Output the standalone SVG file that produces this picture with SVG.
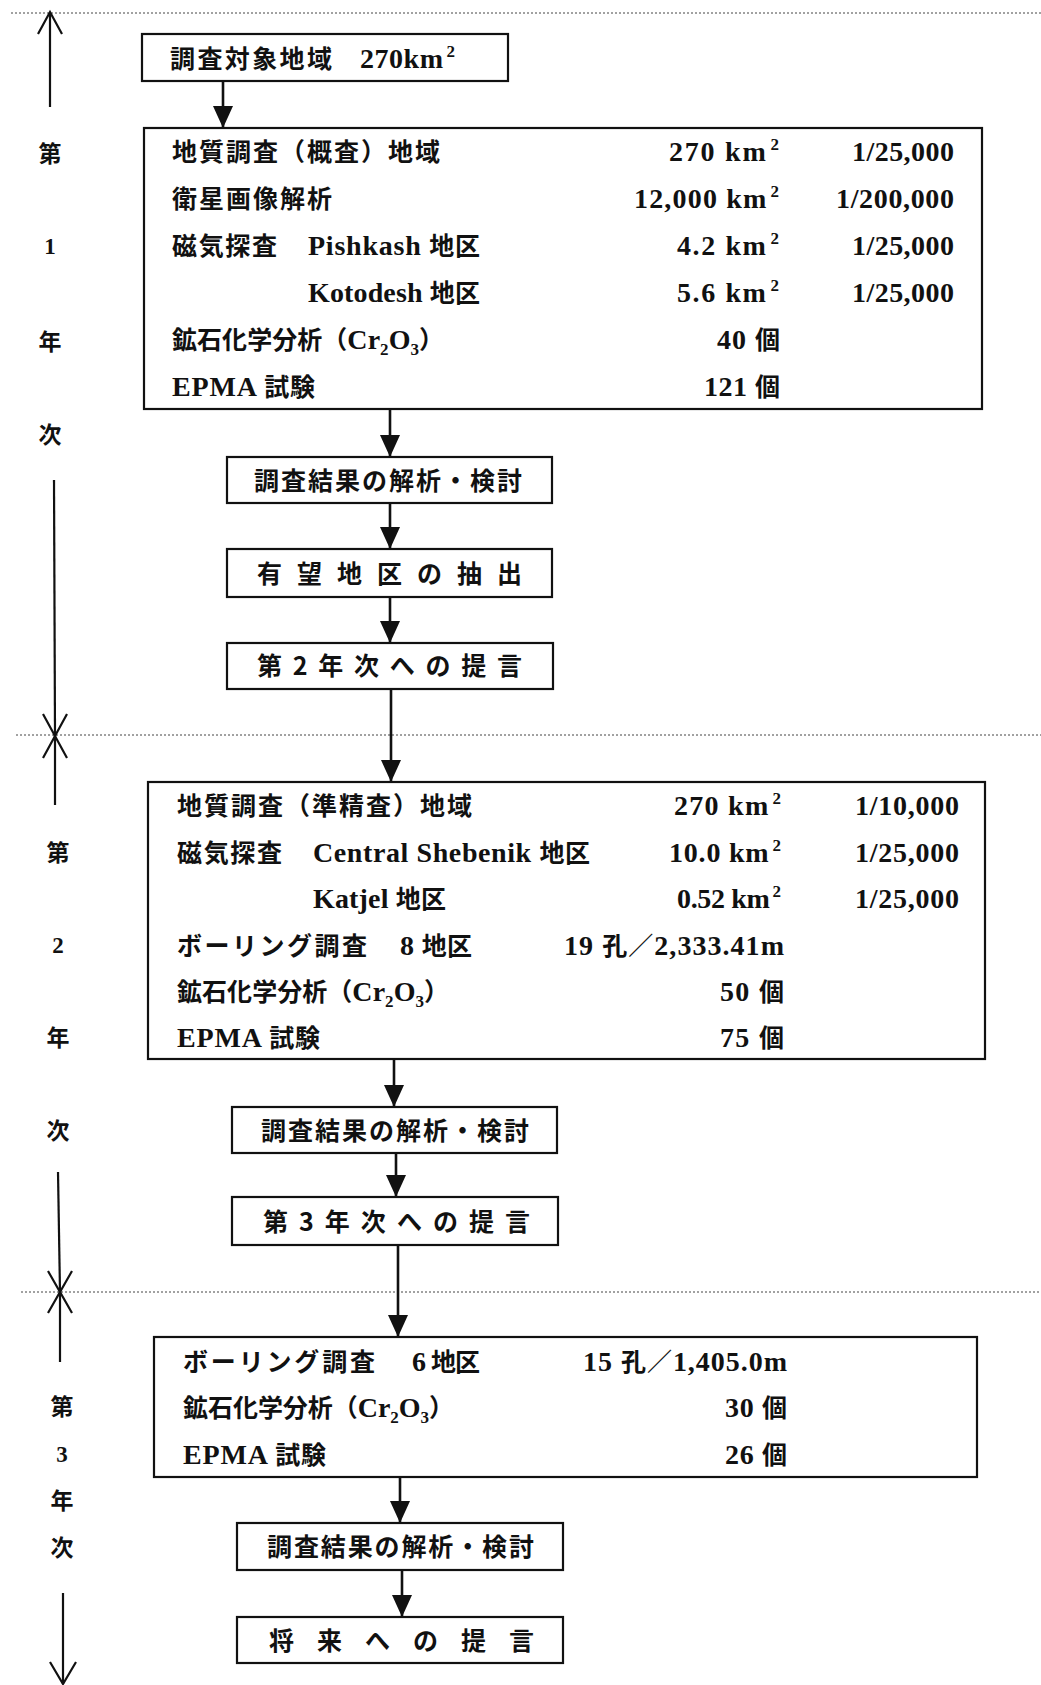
<svg xmlns="http://www.w3.org/2000/svg" width="1041" height="1685" viewBox="0 0 1041 1685">
<style>
.t{font-family:"Liberation Serif","Noto Sans CJK JP",serif;font-weight:bold;font-size:28px;fill:#111}
.s{font-family:"Noto Sans CJK JP","Liberation Serif",sans-serif;font-weight:bold;font-size:25px;fill:#111}
.j{font-family:"Noto Sans CJK JP",sans-serif;font-size:25px}
.sup{font-size:17px}
.sub{font-size:17px}
.lab{font-family:"Liberation Serif","Noto Sans CJK JP",serif;font-weight:bold;font-size:23px;fill:#111;text-anchor:middle}
.box{fill:#fff;stroke:#111;stroke-width:2.2}
.con{stroke:#111;stroke-width:2.6;fill:none}
.tl{stroke:#111;stroke-width:2.2;fill:none}
.dot{stroke:#444;stroke-width:1;stroke-dasharray:2 2;fill:none}
</style>
<defs>
<marker id="ah" viewBox="0 0 22 20" refX="22" refY="10" markerWidth="22" markerHeight="20" markerUnits="userSpaceOnUse" orient="auto">
<path d="M0,0 L22,10 L0,20 z" fill="#111"/>
</marker>
</defs>
<rect width="1041" height="1685" fill="#fff"/>

<g id="separators">
<line class="dot" x1="11" y1="13" x2="1041" y2="13"/>
<line class="dot" x1="16" y1="735" x2="1041" y2="735"/>
<line class="dot" x1="21" y1="1292" x2="1041" y2="1292"/>
</g>

<g id="timeline">
<line class="tl" x1="50" y1="13" x2="50" y2="107"/>
<polyline class="tl" points="38,34 50,12 62,34"/>
<line class="tl" x1="54" y1="480" x2="55" y2="736"/>
<polyline class="tl" points="43,714 55,736 67,714"/>
<polyline class="tl" points="43,758 55,736 67,758"/>
<line class="tl" x1="55" y1="736" x2="55" y2="805"/>
<line class="tl" x1="58" y1="1172" x2="60" y2="1292"/>
<polyline class="tl" points="48,1271 60,1292 72,1271"/>
<polyline class="tl" points="48,1313 60,1292 72,1313"/>
<line class="tl" x1="60" y1="1292" x2="60" y2="1362"/>
<line class="tl" x1="63" y1="1593" x2="63" y2="1684"/>
<polyline class="tl" points="50,1662 63,1684 76,1662"/>
<text class="lab" x="50" y="162">第</text>
<text class="lab" x="50" y="254">1</text>
<text class="lab" x="50" y="350">年</text>
<text class="lab" x="50" y="443">次</text>
<text class="lab" x="58" y="861">第</text>
<text class="lab" x="58" y="953">2</text>
<text class="lab" x="58" y="1046">年</text>
<text class="lab" x="58" y="1139">次</text>
<text class="lab" x="62" y="1415">第</text>
<text class="lab" x="62" y="1462">3</text>
<text class="lab" x="62" y="1509">年</text>
<text class="lab" x="62" y="1556">次</text>
</g>

<g id="connectors">
<line class="con" x1="223" y1="81" x2="223" y2="128" marker-end="url(#ah)"/>
<line class="con" x1="390" y1="409" x2="390" y2="457" marker-end="url(#ah)"/>
<line class="con" x1="390" y1="503" x2="390" y2="549" marker-end="url(#ah)"/>
<line class="con" x1="390" y1="597" x2="390" y2="643" marker-end="url(#ah)"/>
<line class="con" x1="391" y1="689" x2="391" y2="782" marker-end="url(#ah)"/>
<line class="con" x1="394" y1="1059" x2="394" y2="1107" marker-end="url(#ah)"/>
<line class="con" x1="396" y1="1153" x2="396" y2="1197" marker-end="url(#ah)"/>
<line class="con" x1="398" y1="1245" x2="398" y2="1337" marker-end="url(#ah)"/>
<line class="con" x1="400" y1="1477" x2="400" y2="1523" marker-end="url(#ah)"/>
<line class="con" x1="402" y1="1570" x2="402" y2="1617" marker-end="url(#ah)"/>
</g>

<g id="n1">
<rect class="box" x="142" y="34" width="366" height="47"/>
<text class="s" x="170" y="68" textLength="162" lengthAdjust="spacing">調査対象地域</text>
<text class="t" x="360" y="68" textLength="95" lengthAdjust="spacing">270km<tspan class="sup" dx="3" dy="-11">2</tspan></text>
</g>

<g id="n2">
<rect class="box" x="144" y="128" width="838" height="281"/>
<text class="s" x="172" y="161" textLength="268" lengthAdjust="spacing">地質調査（概査）地域</text>
<text class="s" x="172" y="208" textLength="160" lengthAdjust="spacing">衛星画像解析</text>
<text class="s" x="172" y="255" textLength="105" lengthAdjust="spacing">磁気探査</text>
<text class="t" x="308" y="255" textLength="172" lengthAdjust="spacing">Pishkash <tspan class="j">地区</tspan></text>
<text class="t" x="308" y="302" textLength="172" lengthAdjust="spacing">Kotodesh <tspan class="j">地区</tspan></text>
<text class="t" x="172" y="349" textLength="272" lengthAdjust="spacing"><tspan class="j">鉱石化学分析（</tspan>Cr<tspan class="sub" dy="6">2</tspan><tspan dy="-6">O</tspan><tspan class="sub" dy="6">3</tspan><tspan class="j" dy="-6">）</tspan></text>
<text class="t" x="172" y="396" textLength="143" lengthAdjust="spacing">EPMA <tspan class="j">試験</tspan></text>
<text class="t" x="669" y="161" textLength="110" lengthAdjust="spacing">270 km<tspan class="sup" dx="3" dy="-11">2</tspan></text>
<text class="t" x="634" y="208" textLength="145" lengthAdjust="spacing">12,000 km<tspan class="sup" dx="3" dy="-11">2</tspan></text>
<text class="t" x="677" y="255" textLength="102" lengthAdjust="spacing">4.2 km<tspan class="sup" dx="3" dy="-11">2</tspan></text>
<text class="t" x="677" y="302" textLength="102" lengthAdjust="spacing">5.6 km<tspan class="sup" dx="3" dy="-11">2</tspan></text>
<text class="t" x="717" y="349" textLength="63" lengthAdjust="spacing">40 <tspan class="j">個</tspan></text>
<text class="t" x="704" y="396" textLength="76" lengthAdjust="spacing">121 <tspan class="j">個</tspan></text>
<text class="t" x="852" y="161" textLength="102" lengthAdjust="spacing">1/25,000</text>
<text class="t" x="836" y="208" textLength="118" lengthAdjust="spacing">1/200,000</text>
<text class="t" x="852" y="255" textLength="102" lengthAdjust="spacing">1/25,000</text>
<text class="t" x="852" y="302" textLength="102" lengthAdjust="spacing">1/25,000</text>
</g>

<g id="n3">
<rect class="box" x="227" y="457" width="325" height="46"/>
<text class="s" x="254" y="490" textLength="268" lengthAdjust="spacing">調査結果の解析・検討</text>
</g>

<g id="n4">
<rect class="box" x="227" y="549" width="325" height="48"/>
<text class="s" x="257" y="583" textLength="265" lengthAdjust="spacing">有望地区の抽出</text>
</g>

<g id="n5">
<rect class="box" x="227" y="643" width="326" height="46"/>
<text class="s" x="257" y="675" textLength="265" lengthAdjust="spacing">第2年次への提言</text>
</g>

<g id="n6">
<rect class="box" x="148" y="782" width="837" height="277"/>
<text class="s" x="177" y="815" textLength="295" lengthAdjust="spacing">地質調査（準精査）地域</text>
<text class="s" x="177" y="862" textLength="105" lengthAdjust="spacing">磁気探査</text>
<text class="t" x="313" y="862" textLength="277" lengthAdjust="spacing">Central Shebenik <tspan class="j">地区</tspan></text>
<text class="t" x="313" y="908" textLength="133" lengthAdjust="spacing">Katjel <tspan class="j">地区</tspan></text>
<text class="s" x="177" y="955" textLength="190" lengthAdjust="spacing">ボーリング調査</text>
<text class="t" x="400" y="955" textLength="72" lengthAdjust="spacing">8 <tspan class="j">地区</tspan></text>
<text class="t" x="177" y="1001" textLength="272" lengthAdjust="spacing"><tspan class="j">鉱石化学分析（</tspan>Cr<tspan class="sub" dy="6">2</tspan><tspan dy="-6">O</tspan><tspan class="sub" dy="6">3</tspan><tspan class="j" dy="-6">）</tspan></text>
<text class="t" x="177" y="1047" textLength="143" lengthAdjust="spacing">EPMA <tspan class="j">試験</tspan></text>
<text class="t" x="674" y="815" textLength="107" lengthAdjust="spacing">270 km<tspan class="sup" dx="3" dy="-11">2</tspan></text>
<text class="t" x="669" y="862" textLength="112" lengthAdjust="spacing">10.0 km<tspan class="sup" dx="3" dy="-11">2</tspan></text>
<text class="t" x="677" y="908" textLength="104" lengthAdjust="spacing">0.52 km<tspan class="sup" dx="3" dy="-11">2</tspan></text>
<text class="t" x="564" y="955" textLength="220" lengthAdjust="spacing">19 <tspan class="j">孔／</tspan>2,333.41m</text>
<text class="t" x="720" y="1001" textLength="64" lengthAdjust="spacing">50 <tspan class="j">個</tspan></text>
<text class="t" x="720" y="1047" textLength="64" lengthAdjust="spacing">75 <tspan class="j">個</tspan></text>
<text class="t" x="855" y="815" textLength="104" lengthAdjust="spacing">1/10,000</text>
<text class="t" x="855" y="862" textLength="104" lengthAdjust="spacing">1/25,000</text>
<text class="t" x="855" y="908" textLength="104" lengthAdjust="spacing">1/25,000</text>
</g>

<g id="n7">
<rect class="box" x="232" y="1107" width="325" height="46"/>
<text class="s" x="261" y="1140" textLength="268" lengthAdjust="spacing">調査結果の解析・検討</text>
</g>

<g id="n8">
<rect class="box" x="232" y="1197" width="326" height="48"/>
<text class="s" x="263" y="1231" textLength="267" lengthAdjust="spacing">第3年次への提言</text>
</g>

<g id="n9">
<rect class="box" x="154" y="1337" width="823" height="140"/>
<text class="s" x="183" y="1371" textLength="192" lengthAdjust="spacing">ボーリング調査</text>
<text class="t" x="412" y="1371" textLength="68" lengthAdjust="spacing">6 <tspan class="j">地区</tspan></text>
<text class="t" x="183" y="1417" textLength="271" lengthAdjust="spacing"><tspan class="j">鉱石化学分析（</tspan>Cr<tspan class="sub" dy="6">2</tspan><tspan dy="-6">O</tspan><tspan class="sub" dy="6">3</tspan><tspan class="j" dy="-6">）</tspan></text>
<text class="t" x="183" y="1464" textLength="143" lengthAdjust="spacing">EPMA <tspan class="j">試験</tspan></text>
<text class="t" x="583" y="1371" textLength="204" lengthAdjust="spacing">15 <tspan class="j">孔／</tspan>1,405.0m</text>
<text class="t" x="725" y="1417" textLength="62" lengthAdjust="spacing">30 <tspan class="j">個</tspan></text>
<text class="t" x="725" y="1464" textLength="62" lengthAdjust="spacing">26 <tspan class="j">個</tspan></text>
</g>

<g id="n10">
<rect class="box" x="237" y="1523" width="326" height="47"/>
<text class="s" x="267" y="1556" textLength="267" lengthAdjust="spacing">調査結果の解析・検討</text>
</g>

<g id="n11">
<rect class="box" x="237" y="1617" width="326" height="46"/>
<text class="s" x="269" y="1650" textLength="265" lengthAdjust="spacing">将来への提言</text>
</g>
</svg>
